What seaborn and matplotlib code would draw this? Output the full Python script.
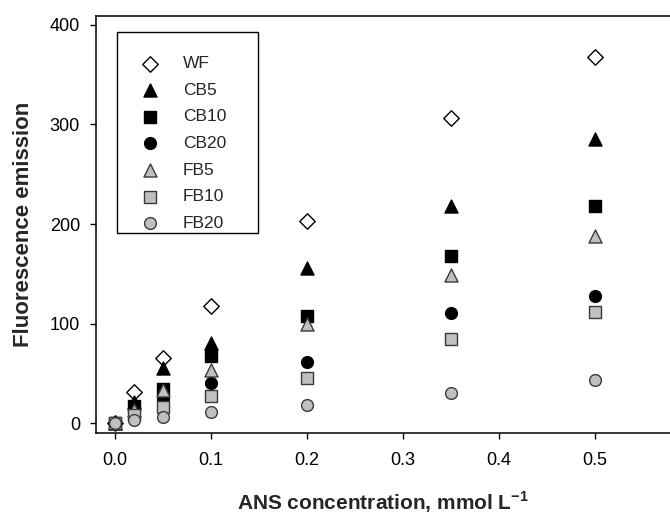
import matplotlib
matplotlib.use("Agg")
import matplotlib.pyplot as plt
from matplotlib.patches import Rectangle
import seaborn as sns
import pandas as pd

sns.set_style("ticks")
plt.rcParams["font.family"] = ["Liberation Sans", "DejaVu Sans"]
plt.rcParams["mathtext.fontset"] = "custom"
plt.rcParams["mathtext.rm"] = "Liberation Sans"
plt.rcParams["mathtext.bf"] = "Liberation Sans:bold"

# ANS concentration (mmol/L)
conc = [0.0, 0.02, 0.05, 0.1, 0.2, 0.35, 0.5]

# Fluorescence emission per sample
wf = [0, 31, 65, 118, 203, 307, 368]
cb5 = [0, 21, 55, 80, 156, 218, 285]
cb10 = [0, 17, 34, 67, 108, 168, 218]
cb20 = [0, 14, 24, 40, 61, 111, 128]
fb5 = [0, 13, 33, 53, 100, 149, 188]
fb10 = [0, 8, 16, 27, 45, 84, 112]
fb20 = [0, 3, 6, 11, 18, 30, 43]

series_names = ["WF", "CB5", "CB10", "CB20", "FB5", "FB10", "FB20"]
series_values = [wf, cb5, cb10, cb20, fb5, fb10, fb20]

x_ticks = [0.0, 0.1, 0.2, 0.3, 0.4, 0.5]
x_tick_labels = ["0.0", "0.1", "0.2", "0.3", "0.4", "0.5"]
y_ticks = [0, 100, 200, 300, 400]

# marker, face colour, edge colour, size (pt^2)
styles = {
    "WF": ("D", "white", "black", 62),
    "CB5": ("^", "black", "black", 88),
    "CB10": ("s", "black", "black", 64),
    "CB20": ("o", "black", "black", 72),
    "FB5": ("^", "#c0c0c0", "#3a3a3a", 88),
    "FB10": ("s", "#c0c0c0", "#3a3a3a", 64),
    "FB20": ("o", "#c0c0c0", "#3a3a3a", 72),
}

df = pd.DataFrame(
    [(c, v, name) for name, vals in zip(series_names, series_values)
     for c, v in zip(conc, vals)],
    columns=["conc", "emission", "sample"],
)

W, H = 670, 520
fig = plt.figure(figsize=(W / 100, H / 100), dpi=100)
ax_left, ax_bottom, ax_w, ax_h = 96, 87, 574, 417
ax = fig.add_axes([ax_left / W, ax_bottom / H, ax_w / W, ax_h / H])

for name in series_names:
    m, fc, ec, s = styles[name]
    sub = df[df["sample"] == name]
    sns.scatterplot(data=sub, x="conc", y="emission", ax=ax, marker=m,
                    color=fc, edgecolor=ec, linewidth=1.0, s=s, label=name,
                    zorder=3)

ax.set_xlim(-0.02, 0.578)
ax.set_ylim(-10, 409)
ax.set_xticks(x_ticks)
ax.set_xticklabels(x_tick_labels)
ax.set_yticks(y_ticks)

for side in ["left", "bottom", "top"]:
    ax.spines[side].set_visible(True)
    ax.spines[side].set_linewidth(1.1)
    ax.spines[side].set_color("black")
ax.spines["right"].set_visible(False)
ax.tick_params(axis="both", direction="out", length=4.5, width=1,
               labelsize=13, colors="black")
ax.tick_params(axis="x", pad=9)
ax.tick_params(axis="y", pad=7)
ax.tick_params(top=False, right=False)

ax.set_xlabel(r"ANS concentration, mmol L$^{\mathbf{-1}}$", fontsize=15,
              fontweight="bold")
ax.set_ylabel("Fluorescence emission", fontsize=16, fontweight="bold")
ax.xaxis.set_label_coords(0.5, (433 - 489) / ax_h)
ax.yaxis.set_label_coords((34 - ax_left) / ax_w, 0.5)

# legend entries (frame drawn separately as a plain box)
fs = 12.5
leg = ax.legend(loc="upper left",
                bbox_to_anchor=((141 - ax_left) / ax_w, (433 - 56) / ax_h),
                borderaxespad=0, borderpad=0, frameon=False, fontsize=fs,
                handlelength=1.0, handletextpad=1.4, labelspacing=0.66)
box = Rectangle(((117 - ax_left) / ax_w, (433 - 233) / ax_h),
                (258 - 117) / ax_w, (233 - 32) / ax_h,
                transform=ax.transAxes, fill=False, edgecolor="black",
                linewidth=1.0, zorder=4)
ax.add_patch(box)

fig.savefig("out.png", dpi=100)
